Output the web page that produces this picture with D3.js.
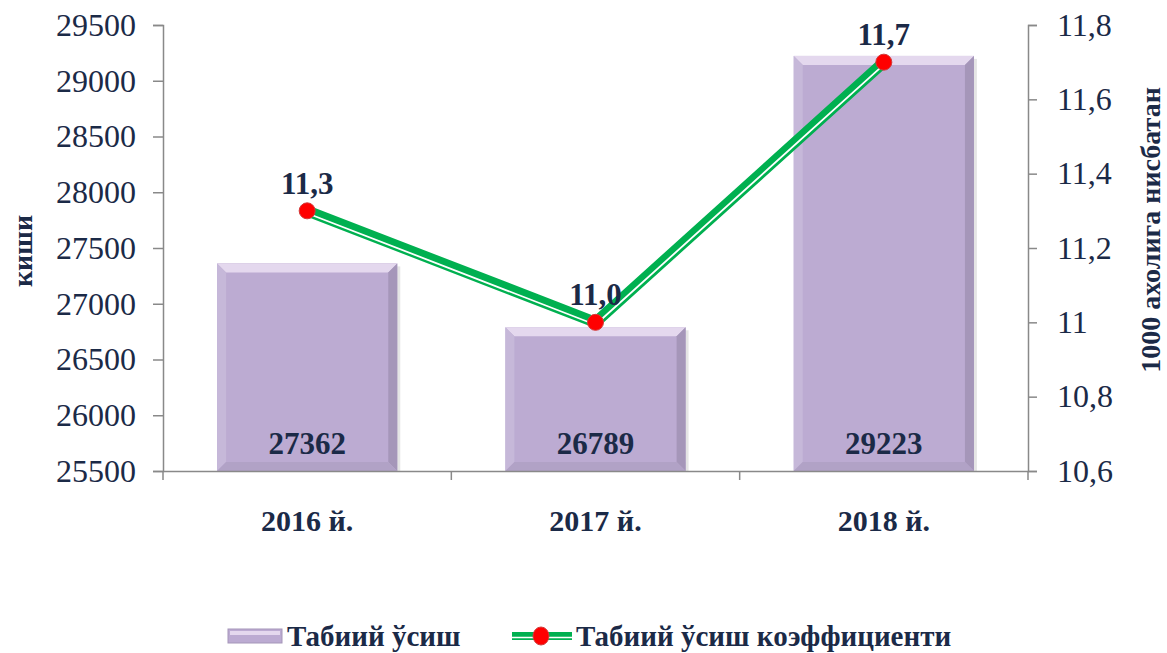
<!DOCTYPE html>
<html>
<head>
<meta charset="utf-8">
<script src="https://cdn.jsdelivr.net/npm/d3@7"></script>
<style>
  body { margin: 0; background: #fff; }
  svg { display: block; }
  svg text { font-family: "Liberation Serif", "Times New Roman", serif; }
</style>
</head>
<body>
<svg width="1167" height="653"></svg>
<script>
// data
const years = ['2016 й.', '2017 й.', '2018 й.'];
const growth = [27362, 26789, 29223];
const rate = [11.3, 11.0, 11.7];
const rateLabels = ['11,3', '11,0', '11,7'];
const leftTicks = [25500, 26000, 26500, 27000, 27500, 28000, 28500, 29000, 29500];
const rightTicks = [10.6, 10.8, 11.0, 11.2, 11.4, 11.6, 11.8];

const textColor = '#1b2a47';
const axisColor = '#898989';
const barColor = '#bcabd2';
const green = '#00b050';

var svg = d3.select('svg'),
    margin = {top: 25, right: 139, bottom: 182, left: 163},
    width = svg.attr('width') - margin.left - margin.right,
    height = svg.attr('height') - margin.top - margin.bottom,
    g = svg.append('g').attr('transform', `translate(${margin.left}, ${margin.top})`);

var x = d3.scaleBand().domain(years).range([0, width]).paddingInner(0.375).paddingOuter(0.1875);
var xc = d3.scaleBand().domain(years).range([0, width]);
var yL = d3.scaleLinear().domain([25500, 29500]).range([height, 0]);
var yR = d3.scaleLinear().domain([10.6, 11.8]).range([height, 0]);

// bars with a soft bevel
const bars = g.selectAll('.bar').data(years).enter().append('g').attr('class', 'bar');
bars.each(function(d, i) {
  const b = d3.select(this);
  const x0 = x(d), w = x.bandwidth(), y0 = yL(growth[i]), h = height - y0, e = 9;
  b.append('rect').attr('x', x0 + 3).attr('y', y0 + 3).attr('width', w).attr('height', h - 3)
    .attr('fill', '#000').attr('opacity', 0.1);
  b.append('rect').attr('x', x0).attr('y', y0).attr('width', w).attr('height', h).attr('fill', barColor);
  b.append('path').attr('d', `M${x0},${y0}H${x0 + w}L${x0 + w - e},${y0 + e}H${x0 + e}Z`).attr('fill', '#e4d8ee');
  b.append('path').attr('d', `M${x0},${y0}L${x0 + e},${y0 + e}V${y0 + h - e}L${x0},${y0 + h}Z`).attr('fill', '#c6b8d9');
  b.append('path').attr('d', `M${x0 + w},${y0}L${x0 + w - e},${y0 + e}V${y0 + h - e}L${x0 + w},${y0 + h}Z`).attr('fill', '#a596b9');
  b.append('path').attr('d', `M${x0},${y0 + h}L${x0 + e},${y0 + h - e}H${x0 + w - e}L${x0 + w},${y0 + h}Z`).attr('fill', '#b1a2c6');
});

bars.append('text')
  .attr('x', d => x(d) + x.bandwidth() / 2)
  .attr('y', height - 17)
  .attr('text-anchor', 'middle')
  .attr('font-size', 31).attr('font-weight', 'bold').attr('fill', textColor)
  .text((d, i) => growth[i]);

// axes
const axL = g.append('g').call(d3.axisLeft(yL).tickValues(leftTicks).tickSize(10).tickFormat(d3.format('d')));
const axR = g.append('g').attr('transform', `translate(${width},0)`)
  .call(d3.axisRight(yR).tickValues(rightTicks).tickSize(9).tickFormat(d => d === 11 ? '11' : d3.format('.1f')(d).replace('.', ',')));
const axB = g.append('g').attr('transform', `translate(0,${height})`)
  .call(d3.axisBottom(xc).tickSize(0).tickFormat(''));
axB.selectAll('.tick').remove();
axB.selectAll('.sep').data(d3.range(years.length + 1)).enter().append('line')
  .attr('x1', i => i * xc.step()).attr('x2', i => i * xc.step())
  .attr('y1', 0).attr('y2', 9).attr('stroke', axisColor).attr('stroke-width', 1.5);

[axL, axR, axB].forEach(a => {
  a.attr('font-family', null);
  a.select('.domain').attr('stroke', axisColor).attr('stroke-width', 1.5);
  a.selectAll('.tick line').attr('stroke', axisColor).attr('stroke-width', 1.5);
  a.selectAll('.tick text').attr('fill', textColor).attr('font-size', 32);
});
axL.selectAll('.tick text').attr('x', -27);
axR.selectAll('.tick text').attr('x', 29);

g.append('g').selectAll('text').data(years).enter().append('text')
  .attr('x', d => xc(d) + xc.bandwidth() / 2)
  .attr('y', height + 60)
  .attr('text-anchor', 'middle')
  .attr('font-size', 30).attr('font-weight', 'bold').attr('fill', textColor)
  .text(d => d);

// axis titles
svg.append('text')
  .attr('transform', `translate(32,${margin.top + height / 2 + 3}) rotate(-90)`)
  .attr('text-anchor', 'middle')
  .attr('font-size', 28).attr('font-weight', 'bold').attr('fill', textColor)
  .text('киши');
svg.append('text')
  .attr('transform', `translate(1160,${margin.top + 205}) rotate(-90)`)
  .attr('text-anchor', 'middle')
  .attr('font-size', 28).attr('font-weight', 'bold').attr('fill', textColor)
  .text('1000 ахолига нисбатан');

// line
var line = d3.line()
  .x((d, i) => xc(years[i]) + xc.bandwidth() / 2)
  .y(d => yR(d));

g.append('path').datum(rate)
  .attr('fill', 'none').attr('stroke', green).attr('stroke-width', 11)
  .attr('stroke-linejoin', 'round').attr('d', line);
g.append('path').datum(rate)
  .attr('fill', 'none').attr('stroke', '#fff').attr('stroke-width', 1.8)
  .attr('transform', 'translate(0,2.4)')
  .attr('stroke-linejoin', 'round').attr('d', line);

g.selectAll('.dot').data(rate).enter().append('circle')
  .attr('cx', (d, i) => xc(years[i]) + xc.bandwidth() / 2)
  .attr('cy', d => yR(d))
  .attr('r', 8)
  .attr('fill', '#ff0000').attr('stroke', '#d23a3a').attr('stroke-width', 1);

g.selectAll('.rlab').data(rate).enter().append('text')
  .attr('x', (d, i) => xc(years[i]) + xc.bandwidth() / 2)
  .attr('y', d => yR(d) - 17)
  .attr('text-anchor', 'middle')
  .attr('font-size', 31).attr('font-weight', 'bold').attr('fill', textColor)
  .text((d, i) => rateLabels[i]);

// legend
const lg = svg.append('g').attr('transform', 'translate(0,636)');
lg.append('rect').attr('x', 228).attr('y', -7).attr('width', 54).attr('height', 14).attr('fill', barColor).attr('stroke', '#a596b9');
lg.append('rect').attr('x', 230).attr('y', -5).attr('width', 50).attr('height', 4).attr('fill', '#e4d8ee');
lg.append('text').attr('x', 287).attr('y', 10).attr('font-size', 29).attr('font-weight', 'bold').attr('fill', textColor)
  .text('Табиий ўсиш');
lg.append('line').attr('x1', 512).attr('x2', 572).attr('y1', 0).attr('y2', 0).attr('stroke', green).attr('stroke-width', 8);
lg.append('line').attr('x1', 512).attr('x2', 572).attr('y1', 1.5).attr('y2', 1.5).attr('stroke', '#fff').attr('stroke-width', 1.4);
lg.append('ellipse').attr('cx', 541).attr('cy', 0).attr('rx', 8).attr('ry', 9).attr('fill', '#ff0000').attr('stroke', '#d23a3a');
lg.append('text').attr('x', 576).attr('y', 10).attr('font-size', 29).attr('font-weight', 'bold').attr('fill', textColor)
  .text('Табиий ўсиш коэффициенти');
</script>
</body>
</html>
